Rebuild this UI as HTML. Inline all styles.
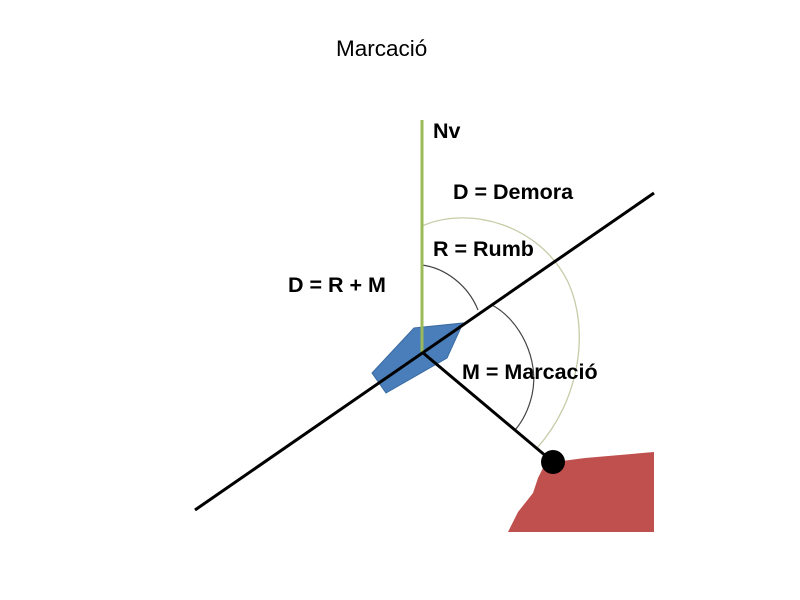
<!DOCTYPE html>
<html><head><meta charset="utf-8"><style>
html,body{margin:0;padding:0;background:#fff;width:800px;height:600px;overflow:hidden}
svg{display:block}
text{font-family:"Liberation Sans",Arial,sans-serif}
.b{font-weight:bold;font-size:21.5px}
</style></head><body>
<svg width="800" height="600" viewBox="0 0 800 600">
<text x="336" y="56" font-size="22.5">Marcació</text>
<path d="M543,468 L562,461 L585,458 L654,452 L654,532 L508,532 L518,512 L533,493 L538,478 Z" fill="#c0504d"/>
<path d="M422,226 C470,205 540,225 568,282 C590,330 580,400 537,448" fill="none" stroke="#c8cba8" stroke-width="1.3"/>
<path d="M422,265 C445,268 468,285 478,310" fill="none" stroke="#444" stroke-width="1.2"/>
<path d="M492,305 C520,320 540,360 532,395 C528,412 522,422 515,430" fill="none" stroke="#444" stroke-width="1.2"/>
<polygon points="372,373 386,393 447,358 463,323 414,328" fill="#4a7ebb" stroke="#3a6aa0" stroke-width="1"/>
<line x1="422" y1="120" x2="422" y2="352" stroke="#9bbb59" stroke-width="3"/>
<line x1="195" y1="510" x2="654" y2="193" stroke="#000" stroke-width="3"/>
<line x1="422" y1="352" x2="553" y2="462" stroke="#000" stroke-width="3"/>
<circle cx="553" cy="462" r="12" fill="#000"/>
<text class="b" x="433" y="138">Nv</text>
<text class="b" x="453" y="199">D = Demora</text>
<text class="b" x="433" y="256">R = Rumb</text>
<text class="b" x="288" y="292">D = R + M</text>
<text class="b" x="462" y="379">M = Marcació</text>
</svg>
</body></html>
